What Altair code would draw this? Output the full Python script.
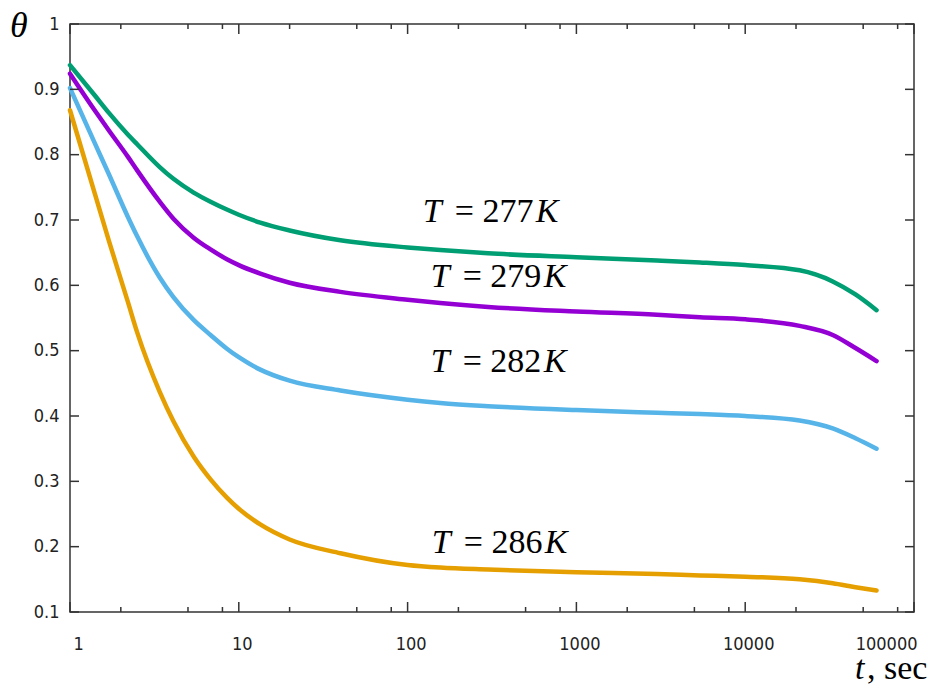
import altair as alt
import pandas as pd

# ---- data ----
t_sec = [1, 1.4, 1.7, 2.2, 2.5, 3.4, 4.1, 5.4, 6.8, 8.5, 10, 13.4, 20, 40, 100,
         156, 300, 1000, 3000, 5400, 10000, 21000, 33000, 45000, 60000]
theta_277 = [0.937, 0.891, 0.864, 0.831, 0.816, 0.781, 0.763, 0.742, 0.728, 0.716,
             0.708, 0.696, 0.684, 0.669, 0.658, 0.654, 0.649, 0.643, 0.638, 0.635,
             0.631, 0.623, 0.606, 0.586, 0.562]
theta_279 = [0.924, 0.868, 0.837, 0.797, 0.776, 0.728, 0.702, 0.673, 0.655, 0.640,
             0.631, 0.618, 0.604, 0.590, 0.578, 0.573, 0.567, 0.560, 0.555, 0.551,
             0.548, 0.538, 0.524, 0.504, 0.484]
theta_282 = [0.902, 0.818, 0.770, 0.705, 0.675, 0.612, 0.582, 0.547, 0.524, 0.503,
             0.490, 0.471, 0.454, 0.439, 0.425, 0.420, 0.415, 0.409, 0.405, 0.403,
             0.400, 0.393, 0.381, 0.366, 0.350]
theta_286 = [0.868, 0.741, 0.668, 0.575, 0.528, 0.437, 0.392, 0.338, 0.303, 0.275,
             0.258, 0.234, 0.211, 0.190, 0.172, 0.168, 0.165, 0.161, 0.158, 0.156,
             0.154, 0.150, 0.144, 0.138, 0.133]

series_names = ["277", "279", "282", "286"]
series_values = [theta_277, theta_279, theta_282, theta_286]
series_colors = ["#009e73", "#9400d3", "#56b4e9", "#e69f00"]

label_t = [123, 137, 137, 139]
label_y = [0.6965, 0.5975, 0.468, 0.190]

x_major = [1, 10, 100, 1000, 10000, 100000]
x_minor = [m * d for d in [1, 10, 100, 1000, 10000] for m in (2, 5, 8)]
y_major = [0.1, 0.2, 0.3, 0.4, 0.5, 0.6, 0.7, 0.8, 0.9, 1.0]

W, H = 844, 588

rows = []
for name, vals in zip(series_names, series_values):
    for t, v in zip(t_sec, vals):
        rows.append({"t": t, "theta": v, "T": name})
df = pd.DataFrame(rows)

xscale = alt.Scale(type="log", domain=[1, 100000], nice=False)
yscale = alt.Scale(domain=[0.1, 1.0], zero=False, nice=False)

tick_font = "DejaVu Sans Condensed, DejaVu Sans"
xaxis = alt.Axis(values=x_major, format="d", tickSize=0, domain=False, grid=False,
                 labelPadding=23, labelOffset=3, title=None,
                 labelFont=tick_font, labelFontSize=18, labelColor="#222")
yaxis = alt.Axis(values=y_major, format="~g", tickSize=0, domain=False, grid=False,
                 labelPadding=11, title=None,
                 labelFont=tick_font, labelFontSize=18, labelColor="#222")

lines = alt.Chart(df).mark_line(strokeWidth=4.5, interpolate="monotone",
                                strokeCap="round").encode(
    x=alt.X("t:Q", scale=xscale, axis=xaxis),
    y=alt.Y("theta:Q", scale=yscale, axis=yaxis),
    color=alt.Color("T:N", scale=alt.Scale(domain=series_names, range=series_colors),
                    legend=None),
)

tick_color = "#333"
ymaj = pd.DataFrame({"v": y_major})
xmaj = pd.DataFrame({"t": x_major})
xmin = pd.DataFrame({"t": x_minor})

yl = alt.Chart(ymaj).mark_rule(color=tick_color, strokeWidth=1.5).encode(
    y=alt.Y("v:Q", scale=yscale), x=alt.value(0), x2=alt.value(9))
yr = alt.Chart(ymaj).mark_rule(color=tick_color, strokeWidth=1.5).encode(
    y=alt.Y("v:Q", scale=yscale), x=alt.value(W - 9), x2=alt.value(W))
xb = alt.Chart(xmaj).mark_rule(color=tick_color, strokeWidth=1.5).encode(
    x=alt.X("t:Q", scale=xscale), y=alt.value(H), y2=alt.value(H - 10))
xt = alt.Chart(xmaj).mark_rule(color=tick_color, strokeWidth=1.5).encode(
    x=alt.X("t:Q", scale=xscale), y=alt.value(0), y2=alt.value(10))
xbm = alt.Chart(xmin).mark_rule(color=tick_color, strokeWidth=1.5).encode(
    x=alt.X("t:Q", scale=xscale), y=alt.value(H), y2=alt.value(H - 5))
xtm = alt.Chart(xmin).mark_rule(color=tick_color, strokeWidth=1.5).encode(
    x=alt.X("t:Q", scale=xscale), y=alt.value(0), y2=alt.value(5))

lab = pd.DataFrame({"t": label_t, "y": label_y,
                    "num": ["= " + n for n in series_names]})
serif = "Liberation Serif"
lab_T = alt.Chart(lab).mark_text(font=serif, fontSize=34, fontStyle="italic",
                                 align="left", baseline="alphabetic", color="black").encode(
    x=alt.X("t:Q", scale=xscale), y=alt.Y("y:Q", scale=yscale), text=alt.value("T"))
lab_num = alt.Chart(lab).mark_text(font=serif, fontSize=34, align="left",
                                   baseline="alphabetic", dx=32, color="black").encode(
    x=alt.X("t:Q", scale=xscale), y=alt.Y("y:Q", scale=yscale), text=alt.Text("num:N"))
lab_K = alt.Chart(lab).mark_text(font=serif, fontSize=34, fontStyle="italic",
                                 align="left", baseline="alphabetic", dx=113, color="black").encode(
    x=alt.X("t:Q", scale=xscale), y=alt.Y("y:Q", scale=yscale), text=alt.value("K"))

one = pd.DataFrame({"a": [0]})
theta_title = alt.Chart(one).mark_text(font=serif, fontSize=36, fontStyle="italic",
                                       align="left", baseline="alphabetic", color="black").encode(
    x=alt.value(-60), y=alt.value(13), text=alt.value("θ"))
t_title = alt.Chart(one).mark_text(font=serif, fontSize=34, fontStyle="italic",
                                   align="left", baseline="alphabetic", color="black").encode(
    x=alt.value(785), y=alt.value(655), text=alt.value("t"))
sec_title = alt.Chart(one).mark_text(font=serif, fontSize=34,
                                     align="left", baseline="alphabetic", color="black").encode(
    x=alt.value(797), y=alt.value(655), text=alt.value(", sec"))

chart = alt.layer(lines, yl, yr, xb, xt, xbm, xtm, lab_T, lab_num, lab_K,
                  theta_title, t_title, sec_title).properties(
    width=W, height=H,
    autosize="none",
    padding={"left": 62, "top": 16, "right": 30, "bottom": 76},
).configure_view(stroke="#333", strokeWidth=1.5)

chart.save("out.html", embed_options={"renderer": "svg", "actions": False})
